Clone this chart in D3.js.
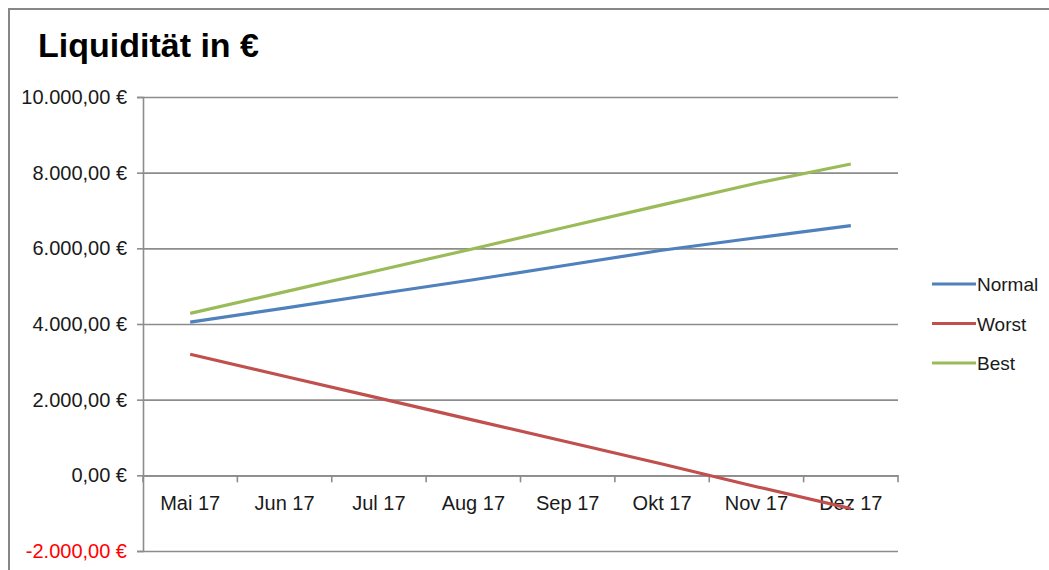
<!DOCTYPE html>
<html>
<head>
<meta charset="utf-8">
<script src="https://cdn.jsdelivr.net/npm/d3@7/dist/d3.min.js"></script>
<style>
  html, body { margin: 0; padding: 0; background: #fff; }
  svg { display: block; font-family: "Liberation Sans", Arial, sans-serif; }
</style>
</head>
<body>
<svg id="chart" width="1049" height="570"></svg>
<script>
const title = "Liquidität in €";
const months = ["Mai 17", "Jun 17", "Jul 17", "Aug 17", "Sep 17", "Okt 17", "Nov 17", "Dez 17"];
const seriesNames = ["Normal", "Worst", "Best"];
const normalValues = [4050, 4420, 4800, 5170, 5560, 5950, 6280, 6600];
const worstValues = [3200, 2620, 2040, 1460, 880, 300, -300, -880];
const bestValues = [4280, 4850, 5420, 5990, 6570, 7150, 7720, 8230];
const yTicks = [-2000, 0, 2000, 4000, 6000, 8000, 10000];
const seriesColors = ["#4F81BD", "#C0504D", "#9BBB59"];

const series = [
  { name: seriesNames[0], values: normalValues, color: seriesColors[0] },
  { name: seriesNames[1], values: worstValues, color: seriesColors[1] },
  { name: seriesNames[2], values: bestValues, color: seriesColors[2] }
];

const locale = d3.formatLocale({ decimal: ",", thousands: ".", grouping: [3], currency: ["", " €"], minus: "-" });
const fmt = locale.format("$,.2f");

const svg = d3.select("#chart");
const plotLeft = 143, plotRight = 898, plotTop = 97, plotBottom = 551;

// chart border
svg.append("rect").attr("x", 9).attr("y", 9).attr("width", 1100).attr("height", 600)
  .attr("fill", "#fff").attr("stroke", "#878787").attr("stroke-width", 2);

svg.append("text").attr("x", 38).attr("y", 57)
  .attr("font-size", 34).attr("font-weight", "bold").attr("fill", "#000")
  .text(title);

const x = d3.scaleBand().domain(months).range([plotLeft, plotRight]).paddingInner(0).paddingOuter(0);
const y = d3.scaleLinear().domain([-2000, 10000]).range([plotBottom, plotTop]);

// gridlines
svg.append("g").attr("transform", `translate(${plotLeft},0)`)
  .call(d3.axisLeft(y).tickValues(yTicks).tickSize(-(plotRight - plotLeft)).tickFormat(""))
  .call(g => g.select(".domain").remove())
  .call(g => g.selectAll("line").attr("stroke", "#8c8c8c").attr("stroke-width", 1.6));

// y axis
const yAxis = svg.append("g").attr("transform", `translate(${plotLeft},0)`)
  .call(d3.axisLeft(y).tickValues(yTicks).tickSize(6).tickPadding(10).tickFormat(fmt));
yAxis.select(".domain").attr("stroke", "#8c8c8c").attr("stroke-width", 1.6);
yAxis.selectAll(".tick line").attr("stroke", "#8c8c8c").attr("stroke-width", 1.6);
yAxis.selectAll(".tick text").attr("font-size", 20).attr("font-family", "Liberation Sans, Arial, sans-serif")
  .attr("fill", d => d < 0 ? "#FF0000" : "#1a1a1a");

// x axis at zero
const xAxis = svg.append("g").attr("transform", `translate(0,${y(0)})`)
  .call(d3.axisBottom(x).tickSize(0).tickPadding(20));
xAxis.select(".domain").attr("stroke", "#8c8c8c").attr("stroke-width", 1.6);
xAxis.selectAll(".tick text").attr("font-size", 20).attr("font-family", "Liberation Sans, Arial, sans-serif").attr("fill", "#1a1a1a");
const boundaries = months.map(m => x(m)).concat([x.range()[1]]);
xAxis.selectAll("line.bound").data(boundaries).join("line").attr("class", "bound")
  .attr("x1", d => d).attr("x2", d => d).attr("y1", 0).attr("y2", 7)
  .attr("stroke", "#8c8c8c").attr("stroke-width", 1.6);

// lines
const line = d3.line().x((d, i) => x(months[i]) + x.bandwidth() / 2).y(d => y(d));
svg.append("g").selectAll("path").data(series).join("path")
  .attr("d", d => line(d.values))
  .attr("fill", "none").attr("stroke", d => d.color).attr("stroke-width", 3.2)
  .attr("stroke-linecap", "butt");

// legend
const legendY = d3.scalePoint().domain(seriesNames).range([284, 363]);
const lg = svg.append("g").selectAll("g").data(series).join("g")
  .attr("transform", d => `translate(0,${legendY(d.name)})`);
lg.append("line").attr("x1", 932).attr("x2", 976).attr("y1", 0).attr("y2", 0)
  .attr("stroke", d => d.color).attr("stroke-width", 3.2);
lg.append("text").attr("x", 977).attr("y", 7).attr("font-size", 19).attr("fill", "#1a1a1a")
  .text(d => d.name);
</script>
</body>
</html>
